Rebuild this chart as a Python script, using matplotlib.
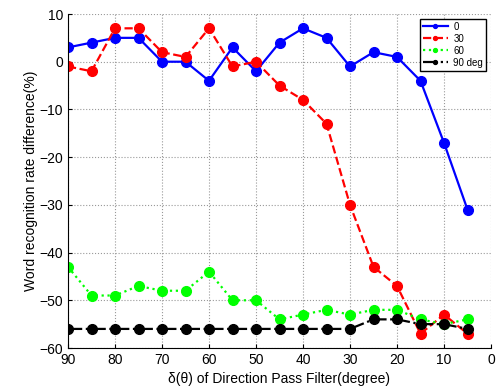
import matplotlib
matplotlib.use("Agg")
import matplotlib.pyplot as plt

x = [90, 85, 80, 75, 70, 65, 60, 55, 50, 45, 40, 35, 30, 25, 20, 15, 10, 5]
s0 = [3, 4, 5, 5, 0, 0, -4, 3, -2, 4, 7, 5, -1, 2, 1, -4, -17, -31]
s30 = [-1, -2, 7, 7, 2, 1, 7, -1, 0, -5, -8, -13, -30, -43, -47, -57, -53, -57]
s60 = [-43, -49, -49, -47, -48, -48, -44, -50, -50, -54, -53, -52, -53, -52, -52, -54, -55, -54]
s90 = [-56, -56, -56, -56, -56, -56, -56, -56, -56, -56, -56, -56, -56, -54, -54, -55, -55, -56]
labels = ["0", "30", "60", "90 deg"]
xticks = [90, 80, 70, 60, 50, 40, 30, 20, 10, 0]
yticks = [10, 0, -10, -20, -30, -40, -50, -60]

plt.rcParams['font.family'] = ['Liberation Sans', 'DejaVu Sans']

fig = plt.figure(figsize=(4.96, 3.91), dpi=100)
ax = fig.add_axes([68/496, 1-348/391, (491-68)/496, (348-14)/391])

ms = 7
ax.plot(x, s0, '-', color='#0000ff', lw=1.6, marker='o', ms=ms, label=labels[0])
ax.plot(x, s30, '--', color='#ff0000', lw=1.6, marker='o', ms=ms, label=labels[1])
ax.plot(x, s60, ':', color='#00ff00', lw=1.6, marker='o', ms=ms, label=labels[2])
ax.plot(x, s90, '-.', color='#000000', lw=1.6, marker='o', ms=ms, label=labels[3])

ax.set_xlim(90, 0)
ax.set_ylim(-60, 10)
ax.set_xticks(xticks)
ax.set_yticks(yticks)
ax.tick_params(direction='in', labelsize=10, length=3)
ax.grid(True, linestyle=':', color='#999999', lw=0.8)
ax.spines['top'].set_visible(False)
ax.spines['right'].set_visible(False)
ax.set_xlabel("δ(θ) of Direction Pass Filter(degree)", fontsize=10, labelpad=4)
ax.set_ylabel("Word recognition rate difference(%)", fontsize=10, labelpad=1)

leg = ax.legend(loc='upper right', fontsize=7, markerscale=0.4, handlelength=2.5,
                fancybox=False, edgecolor='black', framealpha=1,
                borderpad=0.3, labelspacing=0.2, handletextpad=0.6)
leg.get_frame().set_linewidth(1.0)

fig.savefig("out.png", dpi=100)
